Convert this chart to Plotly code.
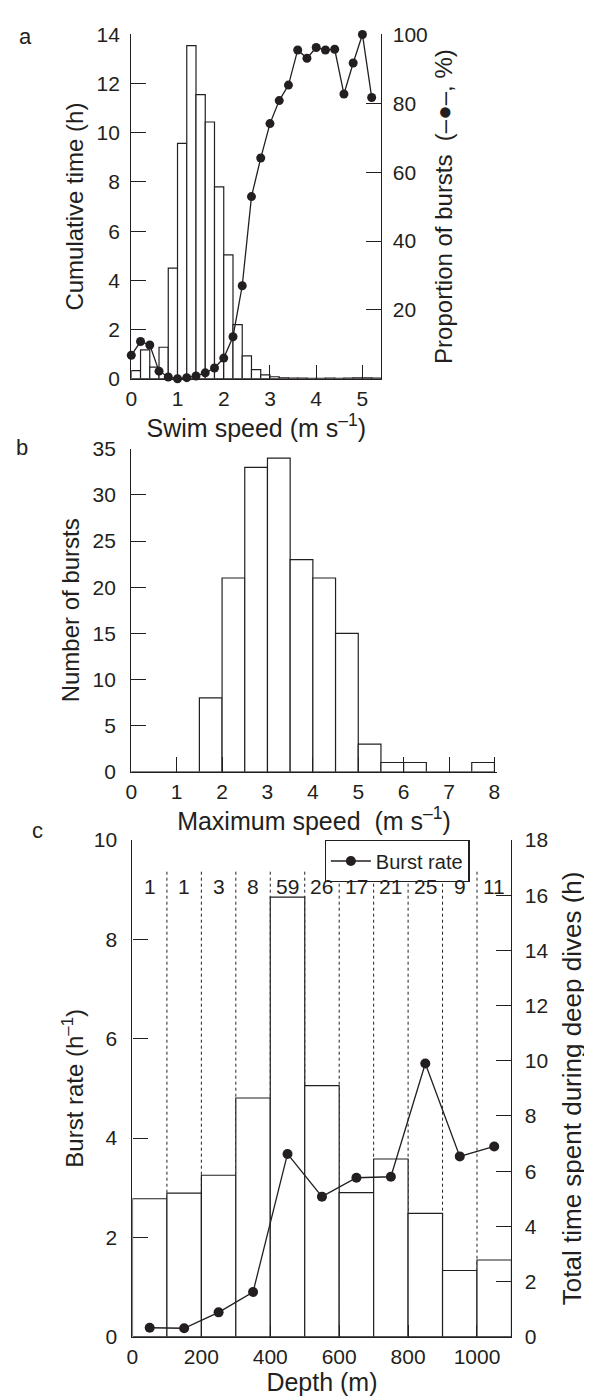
import plotly.graph_objects as go

W, H = 592, 1400
OFF = 8  # page body margin offset of the plot div
INK = "#231f20"
FONT = "Liberation Sans, Arial, Helvetica, sans-serif"

# ---------------- Panel a: swim speed distribution ----------------
speed_bin_start = [0.0, 0.2, 0.4, 0.6, 0.8, 1.0, 1.2, 1.4, 1.6, 1.8, 2.0, 2.2, 2.4,
                   2.6, 2.8, 3.0, 3.2, 3.4, 3.6, 3.8, 4.0, 4.2, 4.4, 4.6, 4.8, 5.0, 5.2]
speed_bin_width = 0.2
cumulative_time_h = [0.33, 1.17, 0.47, 1.28, 4.5, 9.57, 13.55, 11.55, 10.44, 7.8, 5.04,
                     2.2, 0.93, 0.37, 0.16, 0.08, 0.03, 0.02, 0.02, 0.01, 0.01, 0.02,
                     0.01, 0.02, 0.03, 0.04, 0.02]
burst_proportion_pct = [6.8, 10.8, 9.8, 2.2, 0.5, 0.0, 0.3, 0.8, 1.7, 3.1, 6.0, 12.2,
                        27.0, 52.9, 64.1, 74.1, 80.8, 85.3, 95.5, 93.1, 96.2, 95.5,
                        95.7, 82.7, 91.7, 100.0, 81.7]

# ---------------- Panel b: maximum speed of bursts ----------------
max_speed_bin_start = [0.0, 0.5, 1.0, 1.5, 2.0, 2.5, 3.0, 3.5, 4.0, 4.5, 5.0, 5.5,
                       6.0, 6.5, 7.0, 7.5]
max_speed_bin_width = 0.5
number_of_bursts = [0, 0, 0, 8, 21, 33, 34, 23, 21, 15, 3, 1, 1, 0, 0, 1]

# ---------------- Panel c: depth ----------------
depth_bin_start = [0, 100, 200, 300, 400, 500, 600, 700, 800, 900, 1000]
depth_bin_width = 100
total_time_deep_h = [5.0, 5.2, 5.85, 8.65, 15.93, 9.1, 5.22, 6.44, 4.47, 2.4, 2.78]
burst_rate_per_h = [0.18, 0.17, 0.49, 0.9, 3.68, 2.82, 3.2, 3.22, 5.5, 3.63, 3.83]
burst_counts = ["1", "1", "3", "8", "59", "26", "17", "21", "25", "9", "11"]
depth_mid = [d + depth_bin_width / 2 for d in depth_bin_start]

# Tick labels
a_x_ticks = [0, 1, 2, 3, 4, 5]
a_y_ticks = [0, 2, 4, 6, 8, 10, 12, 14]
a_y2_ticks = [20, 40, 60, 80, 100]
b_x_ticks = [0, 1, 2, 3, 4, 5, 6, 7, 8]
b_y_ticks = [0, 5, 10, 15, 20, 25, 30, 35]
c_x_ticks = [0, 200, 400, 600, 800, 1000]
c_y_ticks = [0, 2, 4, 6, 8, 10]
c_y2_ticks = [0, 2, 4, 6, 8, 10, 12, 14, 16, 18]


def fx(p):
    return (p - OFF) / W


def fy(p):
    return 1 - (p - OFF) / H


fig = go.Figure()

bar_style = dict(marker=dict(color="white", line=dict(color=INK, width=1.2)),
                 showlegend=False, hoverinfo="x+y")

# Panel a (bars on base axis, proportion line on overlay axis)
fig.add_trace(go.Bar(x=speed_bin_start, y=cumulative_time_h, width=speed_bin_width,
                     offset=0, xaxis="x", yaxis="y", **bar_style))
fig.add_trace(go.Scatter(x=speed_bin_start, y=burst_proportion_pct, mode="lines+markers",
                         line=dict(color=INK, width=1.3),
                         marker=dict(color=INK, size=9), cliponaxis=False,
                         xaxis="x", yaxis="y2", showlegend=False))

# Panel b
fig.add_trace(go.Bar(x=max_speed_bin_start, y=number_of_bursts, width=max_speed_bin_width,
                     offset=0, xaxis="x2", yaxis="y3", **bar_style))

# Panel c (bars on base right axis y4, burst-rate line on overlay left axis y5)
for d in depth_bin_start[1:]:
    fig.add_shape(type="line", x0=d, x1=d, y0=0, y1=9.37, xref="x3", yref="y5",
                  line=dict(color=INK, width=1, dash="dot"), layer="below")

fig.add_trace(go.Bar(x=depth_bin_start, y=total_time_deep_h, width=depth_bin_width,
                     offset=0, xaxis="x3", yaxis="y4", **bar_style))
fig.add_trace(go.Scatter(x=depth_mid, y=burst_rate_per_h, mode="lines+markers",
                         name="Burst rate",
                         line=dict(color=INK, width=1.3),
                         marker=dict(color=INK, size=10), cliponaxis=False,
                         xaxis="x3", yaxis="y5", showlegend=True))

for xm, lab in zip(depth_mid, burst_counts):
    fig.add_annotation(x=xm, y=9.06, xref="x3", yref="y5", text=lab, showarrow=False,
                       font=dict(size=21, color=INK, family=FONT))

axis_common = dict(showline=True, linecolor=INK, linewidth=1.3, ticks="inside",
                   tickcolor=INK, tickwidth=1.3, showgrid=False, zeroline=False,
                   tickfont=dict(size=21, color=INK, family=FONT))
YT_FONT = dict(size=24, color=INK, family=FONT)
XT_FONT = dict(size=25, color=INK, family=FONT)

layout = dict(
    width=W, height=H,
    margin=dict(l=0, r=0, t=0, b=0),
    paper_bgcolor="white", plot_bgcolor="rgba(0,0,0,0)",
    font=dict(family=FONT, color=INK),
    barmode="overlay",
    # Panel a
    xaxis=dict(domain=[fx(127.3), fx(381.7)], range=[0, 5.41], anchor="y",
               tickvals=a_x_ticks, ticklen=14, ticklabelstandoff=1,
               title=dict(text="Swim speed (m s<sup>–1</sup>)", font=XT_FONT, standoff=0),
               **axis_common),
    yaxis=dict(domain=[fy(372.7), fy(22.7)], range=[0, 14], anchor="x",
               tickvals=a_y_ticks, ticklen=15, ticklabelstandoff=6,
               title=dict(text="Cumulative time (h)", font=YT_FONT, standoff=6),
               **axis_common),
    yaxis2=dict(overlaying="y", side="right", anchor="x", range=[0, 100],
                tickvals=a_y2_ticks, ticklen=15, ticklabelstandoff=6,
                title=dict(text="Proportion of bursts  (–●–, %)", font=YT_FONT, standoff=8),
                **axis_common),
    # Panel b
    xaxis2=dict(domain=[fx(127.3), fx(499)], range=[0, 8.05], anchor="y3",
                tickvals=b_x_ticks, ticklen=15, ticklabelstandoff=1,
                title=dict(text="Maximum speed\u00a0 (m s<sup>–1</sup>)", font=XT_FONT, standoff=0),
                **axis_common),
    yaxis3=dict(domain=[fy(772.3), fy(444)], range=[0, 35], anchor="x2",
                tickvals=b_y_ticks, ticklen=15, ticklabelstandoff=10,
                title=dict(text="Number of bursts", font=YT_FONT, standoff=6),
                **axis_common),
    # Panel c
    xaxis3=dict(domain=[fx(128.5), fx(514)], range=[0, 1100], anchor="y4",
                tickvals=c_x_ticks, ticklen=12, ticklabelstandoff=1,
                title=dict(text="Depth (m)", font=XT_FONT, standoff=0),
                **axis_common),
    yaxis4=dict(domain=[fy(1346.7), fy(841.7)], range=[0, 18], anchor="x3", side="right",
                tickvals=c_y2_ticks, ticklen=15, ticklabelstandoff=8,
                title=dict(text="Total time spent during deep dives (h)",
                           font=dict(size=26, color=INK, family=FONT), standoff=15),
                **axis_common),
    yaxis5=dict(overlaying="y4", side="left", anchor="x3", range=[0, 10],
                tickvals=c_y_ticks, ticklen=15, ticklabelstandoff=10,
                title=dict(text="Burst rate (h<sup>–1</sup>)", font=YT_FONT, standoff=3),
                **axis_common),
    legend=dict(x=fx(324), y=fy(842), xanchor="left", yanchor="top",
                bgcolor="white", bordercolor=INK, borderwidth=1.2,
                font=dict(size=20, color=INK, family=FONT),
                itemwidth=40, tracegroupgap=0),
    showlegend=True,
)
fig.update_layout(**layout)

for letter, px, py in [("a", 20, 25), ("b", 16, 443), ("c", 32, 832)]:
    fig.add_annotation(x=fx(px), y=fy(py), xref="paper", yref="paper", text=letter,
                       showarrow=False, xanchor="center", yanchor="middle",
                       font=dict(size=22, color=INK, family=FONT))

fig.write_html("out.html")
